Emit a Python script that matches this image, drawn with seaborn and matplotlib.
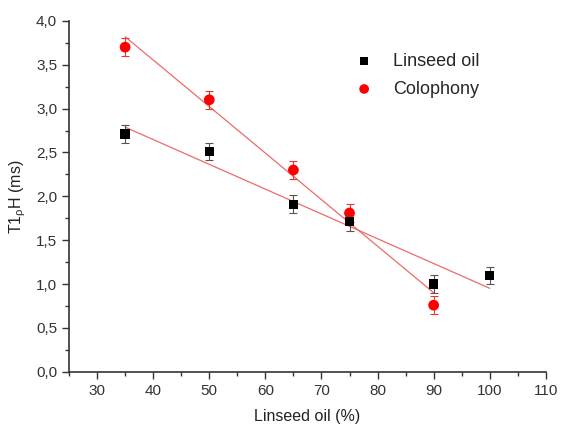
import matplotlib
matplotlib.use("Agg")
import matplotlib.pyplot as plt
import matplotlib.ticker as mticker
import seaborn as sns
import numpy as np
import pandas as pd

# values
linseed_x = [35, 50, 65, 75, 90, 100]
linseed_y = [2.71, 2.51, 1.91, 1.71, 1.00, 1.10]
linseed_err = [0.1, 0.1, 0.1, 0.1, 0.1, 0.1]

colophony_x = [35, 50, 65, 75, 90]
colophony_y = [3.70, 3.10, 2.30, 1.81, 0.76]
colophony_err = [0.1, 0.1, 0.1, 0.1, 0.1]

sns.set_style("ticks")
plt.rcParams['font.family'] = ['Liberation Sans', 'DejaVu Sans']
plt.rcParams['mathtext.fontset'] = 'custom'
plt.rcParams['mathtext.rm'] = 'Liberation Sans'
plt.rcParams['mathtext.it'] = 'Liberation Sans'

lin = pd.DataFrame({"x": linseed_x, "y": linseed_y, "err": linseed_err})
col = pd.DataFrame({"x": colophony_x, "y": colophony_y, "err": colophony_err})

fig = plt.figure(figsize=(5.61, 4.25), dpi=100)
ax = fig.add_axes([0.123, 0.125, 0.850, 0.826])

# linear fits
fit_color = "#ee6a6a"
sns.regplot(data=lin, x="x", y="y", scatter=False, ci=None, truncate=True,
            line_kws={"color": fit_color, "lw": 0.9}, ax=ax)
sns.regplot(data=col, x="x", y="y", scatter=False, ci=None, truncate=True,
            line_kws={"color": fit_color, "lw": 0.9}, ax=ax)

# error bars
ax.errorbar(col["x"], col["y"], yerr=col["err"], fmt="none", ecolor="#ee3333",
            elinewidth=0.8, capsize=3, capthick=0.8)
ax.errorbar(lin["x"], lin["y"], yerr=lin["err"], fmt="none", ecolor="#555555",
            elinewidth=0.8, capsize=3, capthick=0.8)

sns.scatterplot(data=lin, x="x", y="y", marker="s", color="black", s=45,
                edgecolor="none", label="Linseed oil", ax=ax, zorder=6)
sns.scatterplot(data=col, x="x", y="y", marker="o", color="#ff0000", s=60,
                edgecolor="none", label="Colophony", ax=ax, zorder=5)

ax.set_xlim(25, 110)
ax.set_ylim(0, 4.0)
ax.xaxis.set_major_locator(mticker.MultipleLocator(10))
ax.xaxis.set_minor_locator(mticker.MultipleLocator(5))
ax.yaxis.set_major_locator(mticker.MultipleLocator(0.5))
ax.yaxis.set_minor_locator(mticker.MultipleLocator(0.25))
ax.yaxis.set_major_formatter(mticker.FuncFormatter(lambda v, p: f"{v:.1f}".replace(".", ",")))
ax.tick_params(which="major", length=5, width=1, labelsize=11, colors="#333333")
ax.tick_params(which="minor", length=3, width=1, colors="#333333")
for s in ["left", "bottom"]:
    ax.spines[s].set_linewidth(1.2)
    ax.spines[s].set_color("#333333")
sns.despine(ax=ax)

ax.set_xlabel("Linseed oil (%)", fontsize=11.5, color="#222222", labelpad=8)
ax.set_ylabel(r"T1$_{\rho}$H (ms)", fontsize=11.5, color="#222222", labelpad=6)

ax.legend(loc="upper right", bbox_to_anchor=(0.895, 0.955), frameon=False,
          fontsize=13, handletextpad=0.6, markerscale=0.9, labelspacing=0.6)

fig.savefig("out.png", dpi=100)
